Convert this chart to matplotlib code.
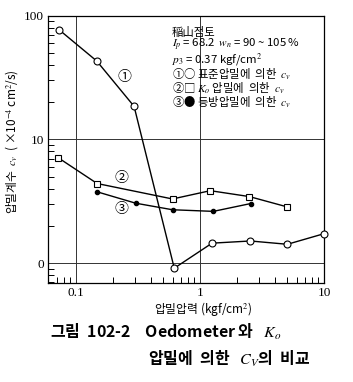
import matplotlib
matplotlib.use("Agg")
import matplotlib.pyplot as plt
from matplotlib.ticker import LogLocator, NullFormatter, FixedLocator, FixedFormatter

plt.rcParams["font.family"] = ["Noto Sans CJK KR", "DejaVu Sans"]
plt.rcParams["mathtext.fontset"] = "stix"

# ── 데이터 ─────────────────────────────────────────
p1 = [0.073, 0.147, 0.294, 0.62, 1.25, 2.55, 5.06, 10.0]
cv1 = [77, 43, 18.5, 0.91, 1.45, 1.51, 1.42, 1.73]      # ① 표준압밀

p2 = [0.072, 0.148, 0.60, 1.21, 2.5, 5.03]
cv2 = [7.1, 4.4, 3.3, 3.85, 3.45, 2.85]                 # ② Ko 압밀

p3 = [0.148, 0.303, 0.60, 1.28, 2.56]
cv3 = [3.77, 3.05, 2.7, 2.62, 3.03]                     # ③ 등방압밀

y_ticks = [1, 10, 100]
y_ticklabels = ["0", "10", "100"]
x_ticks = [0.1, 1, 10]
x_ticklabels = ["0.1", "1", "10"]

serif = ["Liberation Serif", "DejaVu Serif"]
kr = ["Noto Sans CJK KR", "DejaVu Sans"]

fig = plt.figure(figsize=(3.53, 3.82), dpi=100)
ax = fig.add_axes([0.1368, 0.26, 0.918 - 0.1368, 0.959 - 0.26])

ax.set_xscale("log")
ax.set_yscale("log")
ax.set_xlim(0.0598, 10)
ax.set_ylim(0.695, 100)

# 격자선 (decade)
for v in [1, 10]:
    ax.axhline(v, color="#333333", linewidth=0.7)
for v in [0.1, 1]:
    ax.axvline(v, color="#333333", linewidth=0.7)

ax.plot(p1, cv1, "-o", color="black", linewidth=1.0, markersize=5,
        markerfacecolor="white", markeredgewidth=0.8, clip_on=False, zorder=3)
ax.plot(p2, cv2, "-s", color="black", linewidth=1.0, markersize=4.5,
        markerfacecolor="white", markeredgewidth=0.8, clip_on=False, zorder=3)
ax.plot(p3, cv3, "-o", color="black", linewidth=1.0, markersize=3,
        clip_on=False, zorder=3)

# 곡선 번호
ax.text(0.244, 32, "①", fontsize=10, family=kr, ha="center", va="center")
ax.text(0.233, 4.92, "②", fontsize=10, family=kr, ha="center", va="center")
ax.text(0.233, 2.72, "③", fontsize=10, family=kr, ha="center", va="center")

# 축 눈금
ax.yaxis.set_major_locator(FixedLocator(y_ticks))
ax.yaxis.set_major_formatter(FixedFormatter(y_ticklabels))
ax.yaxis.set_minor_locator(LogLocator(base=10, subs=range(2, 10)))
ax.yaxis.set_minor_formatter(NullFormatter())
ax.xaxis.set_major_locator(FixedLocator(x_ticks))
ax.xaxis.set_major_formatter(FixedFormatter(x_ticklabels))
ax.xaxis.set_minor_locator(LogLocator(base=10, subs=range(2, 10)))
ax.xaxis.set_minor_formatter(NullFormatter())
ax.tick_params(which="both", direction="in", top=False, right=False,
               width=0.7, color="black")
ax.tick_params(which="major", length=0, labelsize=9.5, pad=3)
ax.tick_params(which="minor", length=4)
for lab in ax.get_xticklabels() + ax.get_yticklabels():
    lab.set_family(serif)
for s in ax.spines.values():
    s.set_linewidth(0.9)

# 범례 텍스트 (한 블록으로)
lines = [
    "稲山점토",
    "$I_p$ = 68.2  $w_n$ = 90 ~ 105 %",
    "$p_3$ = 0.37 kgf/cm$^2$",
    "①○ 표준압밀에  의한  $c_v$",
    "②□ $K_o$ 압밀에  의한  $c_v$",
    "③● 등방압밀에  의한  $c_v$",
]
fig.text(172 / 353, 1 - 27 / 382, "\n".join(lines), fontsize=8.2,
         family=kr, ha="left", va="top", linespacing=0.87)

ax.set_ylabel("압밀계수  $c_v$  ( ×10$^{-4}$ cm$^2$/s)", fontsize=8.5, family=kr)
ax.yaxis.set_label_coords(-0.103, 0.527)
fig.text(203 / 353, 1 - 309 / 382, "압밀압력 (kgf/cm$^2$)", fontsize=8.5,
         family=kr, ha="center", va="center")

fig.text(50 / 353, 1 - 332 / 382, "그림  102-2    Oedometer 와   $K_o$",
         fontsize=11.5, family=kr, fontweight="bold", ha="left", va="center")
fig.text(148 / 353, 1 - 358 / 382, "압밀에  의한   $C_V$의  비교",
         fontsize=11.5, family=kr, fontweight="bold", ha="left", va="center")

fig.savefig("out.png", dpi=100)
